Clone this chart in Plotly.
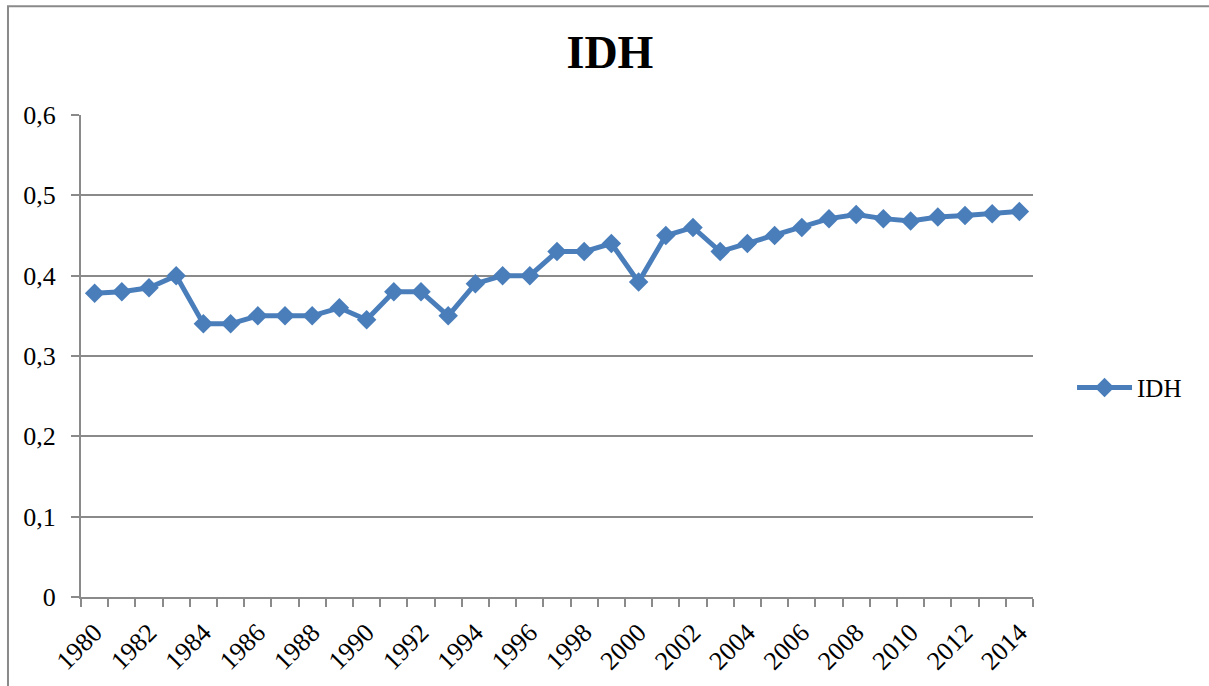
import plotly.graph_objects as go

years = list(range(1980, 2015))
idh = [0.378, 0.380, 0.385, 0.400, 0.340, 0.340, 0.350, 0.350, 0.350, 0.360,
       0.345, 0.380, 0.380, 0.350, 0.390, 0.400, 0.400, 0.430, 0.430, 0.440,
       0.392, 0.450, 0.460, 0.430, 0.440, 0.450, 0.460, 0.471, 0.476, 0.471,
       0.468, 0.473, 0.475, 0.477, 0.480]
x_tick_vals = list(range(1980, 2015, 2))
x_tick_text = [str(v) for v in x_tick_vals]
y_tick_vals = [0, 0.1, 0.2, 0.3, 0.4, 0.5, 0.6]

BLUE = "#4a7ebb"
GRAY = "#8a8a8a"
FONT = "Liberation Serif"

fig = go.Figure()
fig.add_trace(go.Scatter(
    x=years, y=idh, name="IDH", mode="lines+markers",
    line=dict(color=BLUE, width=5),
    marker=dict(symbol="diamond", size=15, color=BLUE),
))

fig.update_layout(
    width=1209, height=686,
    margin=dict(l=81, r=176, t=115, b=89),
    paper_bgcolor="white", plot_bgcolor="white",
    separators=", ",
    font=dict(family=FONT, color="black", size=26),
    title=dict(text="<b>IDH</b>", x=0.5045, xref="container", xanchor="center",
               y=0.924, yref="container", yanchor="middle",
               font=dict(family=FONT, size=46, color="black")),
    showlegend=True,
    legend=dict(x=1.041, xanchor="left", y=0.434, yanchor="middle",
                font=dict(family=FONT, size=25, color="black"),
                itemwidth=55, bgcolor="rgba(0,0,0,0)"),
    xaxis=dict(
        range=[1979.5, 2014.5], tickmode="array", tickvals=x_tick_vals,
        ticktext=x_tick_text, tickangle=-45, ticks="outside", ticklen=8,
        tickcolor="rgba(0,0,0,0)", showgrid=False, zeroline=False,
        showline=True, linecolor=GRAY, linewidth=2, automargin=False,
        tickfont=dict(family=FONT, size=26, color="black"),
        minor=dict(tick0=1979.5, dtick=1, ticks="outside", ticklen=8,
                   tickcolor=GRAY, tickwidth=1.5, showgrid=False),
    ),
    yaxis=dict(
        range=[0, 0.6], tickmode="array", tickvals=y_tick_vals,
        ticks="outside", ticklen=8, tickcolor=GRAY, tickwidth=1.5,
        showgrid=True, gridcolor=GRAY, gridwidth=1.5, zeroline=False,
        showline=True, linecolor=GRAY, linewidth=2, automargin=False,
        ticklabelstandoff=10,
        tickfont=dict(family=FONT, size=26, color="black"),
    ),
    shapes=[dict(type="rect", xref="paper", yref="paper",
                 x0=-0.0767, x1=1.25, y0=-0.25, y1=1.2255,
                 line=dict(color=GRAY, width=2), fillcolor="rgba(0,0,0,0)",
                 layer="below")],
)

fig.write_html("out.html", config={"displayModeBar": False},
               post_script="document.body.style.margin='0';")
